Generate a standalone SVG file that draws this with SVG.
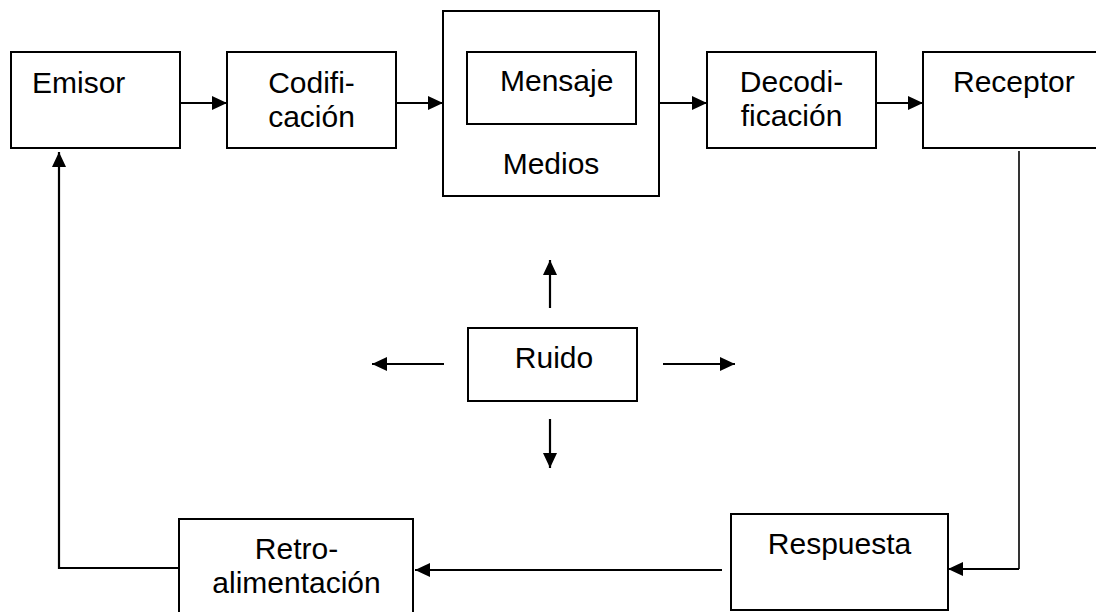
<svg xmlns="http://www.w3.org/2000/svg" width="1096" height="612" viewBox="0 0 1096 612">
  <style>
    .box { fill: #ffffff; stroke: #000000; stroke-width: 2; }
    .lbl { font-family: "Liberation Sans", Arial, sans-serif; font-size: 30px; fill: #000000; }
    .mid { text-anchor: middle; }
    .wire { fill: none; stroke: #000000; stroke-width: 2.2; }
    .thin { fill: none; stroke: #000000; stroke-width: 1.6; }
  </style>
  <defs>
    <marker id="arrow" markerUnits="userSpaceOnUse" markerWidth="16" markerHeight="14" refX="15" refY="7" orient="auto">
      <path d="M0,0 L15,7 L0,14 Z" fill="#000000"/>
    </marker>
  </defs>
  <rect width="1096" height="612" fill="#ffffff"/>

  <!-- connectors -->
  <g id="connectors">
    <line class="wire" x1="180" y1="103" x2="227" y2="103" marker-end="url(#arrow)"/>
    <line class="wire" x1="396" y1="103" x2="443" y2="103" marker-end="url(#arrow)"/>
    <line class="wire" x1="659" y1="103" x2="707" y2="103" marker-end="url(#arrow)"/>
    <line class="wire" x1="876" y1="103" x2="923" y2="103" marker-end="url(#arrow)"/>
    <polyline class="thin" points="1019,151 1019,569"/>
    <line class="wire" x1="1019" y1="569" x2="948" y2="569" marker-end="url(#arrow)"/>
    <line class="wire" x1="722" y1="570" x2="415" y2="570" marker-end="url(#arrow)"/>
    <polyline class="wire" points="179,568 59,568 59,152" marker-end="url(#arrow)"/>
    <!-- noise spreading outwards -->
    <line class="wire" x1="550" y1="308" x2="550" y2="260" marker-end="url(#arrow)"/>
    <line class="wire" x1="550" y1="419" x2="550" y2="468" marker-end="url(#arrow)"/>
    <line class="wire" x1="444" y1="364" x2="372" y2="364" marker-end="url(#arrow)"/>
    <line class="wire" x1="663" y1="364" x2="735" y2="364" marker-end="url(#arrow)"/>
  </g>

  <g id="emisor">
    <rect class="box" x="11" y="52" width="169" height="96"/>
    <text class="lbl" x="32" y="93">Emisor</text>
  </g>

  <g id="codificacion">
    <rect class="box" x="227" y="52" width="169" height="96"/>
    <text class="lbl mid" x="311.5" y="93">Codifi-</text>
    <text class="lbl mid" x="311.5" y="127">cación</text>
  </g>

  <g id="medios">
    <rect class="box" x="443" y="11" width="216" height="185"/>
    <text class="lbl mid" x="551" y="174">Medios</text>
  </g>

  <g id="mensaje">
    <rect class="box" x="467" y="52" width="169" height="72"/>
    <text class="lbl" x="500" y="91">Mensaje</text>
  </g>

  <g id="decodificacion">
    <rect class="box" x="707" y="52" width="169" height="96"/>
    <text class="lbl mid" x="791.5" y="92">Decodi-</text>
    <text class="lbl mid" x="791.5" y="126">ficación</text>
  </g>

  <g id="receptor">
    <rect class="box" x="923" y="52" width="180" height="96"/>
    <text class="lbl" x="953" y="92">Receptor</text>
  </g>

  <g id="ruido">
    <rect class="box" x="468" y="328" width="169" height="73"/>
    <text class="lbl mid" x="554" y="368">Ruido</text>
  </g>

  <g id="respuesta">
    <rect class="box" x="731" y="514" width="217" height="96"/>
    <text class="lbl mid" x="839.5" y="554">Respuesta</text>
  </g>

  <g id="retroalimentacion">
    <rect class="box" x="179" y="519" width="234" height="100"/>
    <text class="lbl mid" x="296.5" y="559">Retro-</text>
    <text class="lbl mid" x="296.5" y="593">alimentación</text>
  </g>
</svg>
